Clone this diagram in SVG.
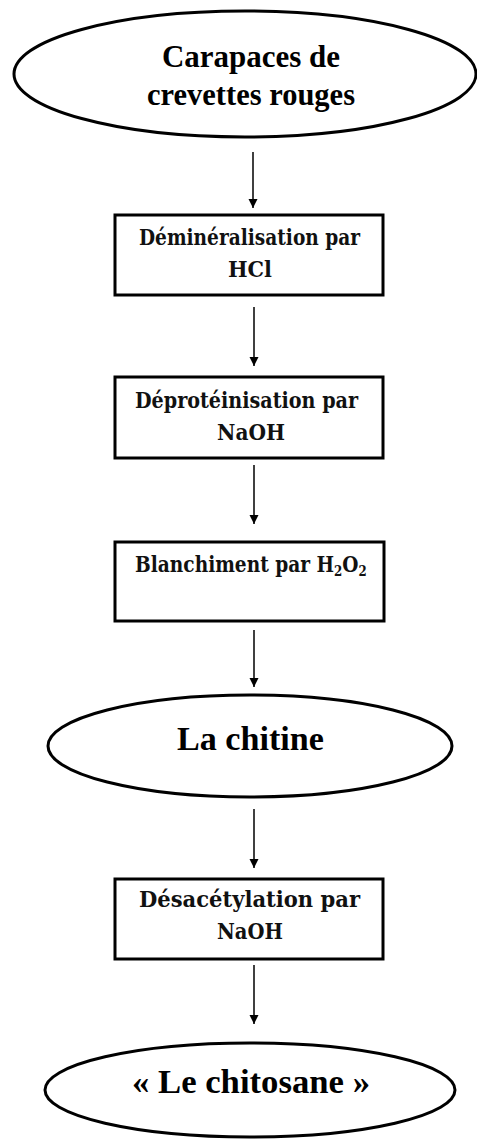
<svg xmlns="http://www.w3.org/2000/svg" width="477" height="1140" viewBox="0 0 477 1140">
<style>
.shape{fill:#fff;stroke:#000;stroke-width:3}
.el{font-family:"Liberation Serif","Times New Roman",serif;font-weight:bold;fill:#000;text-anchor:middle}
.bx{font-family:"DejaVu Serif","Liberation Serif",serif;font-weight:bold;font-size:22px;fill:#111;text-anchor:middle}
.conn{stroke:#000;stroke-width:1.5;fill:none;marker-end:url(#ah)}
</style>
<defs>
<marker id="ah" markerUnits="userSpaceOnUse" viewBox="0 0 10 10" refX="10" refY="5" markerWidth="9" markerHeight="10" orient="auto">
<path d="M0,0 L10,5 L0,10 z" fill="#000"/>
</marker>
</defs>
<rect width="477" height="1140" fill="#fff"/>
<g id="connectors">
<line class="conn" x1="253" y1="152" x2="253" y2="208"/>
<line class="conn" x1="254" y1="307" x2="254" y2="366"/>
<line class="conn" x1="254" y1="465" x2="254" y2="524"/>
<line class="conn" x1="254" y1="630" x2="254" y2="687"/>
<line class="conn" x1="254" y1="809" x2="254" y2="868"/>
<line class="conn" x1="254" y1="965" x2="254" y2="1024"/>
</g>
<g id="node-carapaces">
<ellipse class="shape" cx="245" cy="74" rx="231" ry="63"/>
<text class="el" font-size="31" x="251" y="67" textLength="178" lengthAdjust="spacingAndGlyphs">Carapaces de</text>
<text class="el" font-size="31" x="251" y="105" textLength="208" lengthAdjust="spacingAndGlyphs">crevettes rouges</text>
</g>
<g id="node-demineralisation">
<rect class="shape" x="115" y="215" width="268" height="80"/>
<text class="bx" x="249.5" y="245" textLength="221" lengthAdjust="spacingAndGlyphs">Déminéralisation par</text>
<text class="bx" x="250" y="277" textLength="44" lengthAdjust="spacingAndGlyphs">HCl</text>
</g>
<g id="node-deproteinisation">
<rect class="shape" x="115" y="377" width="268" height="81"/>
<text class="bx" x="246.5" y="408" textLength="223" lengthAdjust="spacingAndGlyphs">Déprotéinisation par</text>
<text class="bx" x="251" y="440" textLength="68" lengthAdjust="spacingAndGlyphs">NaOH</text>
</g>
<g id="node-blanchiment">
<rect class="shape" x="115" y="542" width="269" height="79"/>
<text class="bx" transform="translate(135,572) scale(0.845,1)" x="0" y="0" style="text-anchor:start">Blanchiment par H<tspan font-size="14" dy="4">2</tspan><tspan dy="-4">O</tspan><tspan font-size="14" dy="4">2</tspan></text>
</g>
<g id="node-chitine">
<ellipse class="shape" cx="250" cy="746" rx="202" ry="51"/>
<text class="el" font-size="34" x="250.5" y="750" textLength="147" lengthAdjust="spacingAndGlyphs">La chitine</text>
</g>
<g id="node-desacetylation">
<rect class="shape" x="115" y="879" width="268" height="80"/>
<text class="bx" x="249.5" y="907" textLength="221" lengthAdjust="spacingAndGlyphs">Désacétylation par</text>
<text class="bx" x="250" y="939" textLength="66" lengthAdjust="spacingAndGlyphs">NaOH</text>
</g>
<g id="node-chitosane">
<ellipse class="shape" cx="250" cy="1090" rx="205" ry="47"/>
<text class="el" font-size="34" x="251" y="1093" textLength="238" lengthAdjust="spacingAndGlyphs">« Le chitosane »</text>
</g>
</svg>
